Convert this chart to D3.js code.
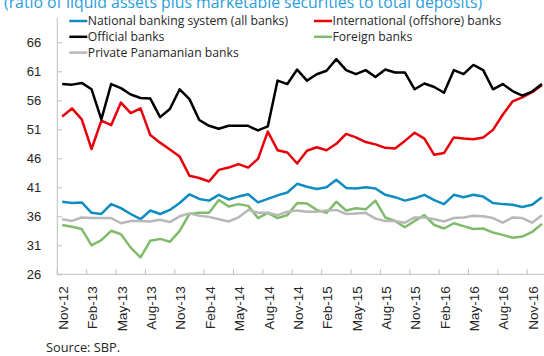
<!DOCTYPE html>
<html>
<head>
<meta charset="utf-8">
<script src="https://cdn.jsdelivr.net/npm/d3@7"></script>
<style>
    body { margin: 0; background: #fff; }
    svg { display: block; font-family: "Open Sans", sans-serif; }
</style>
</head>
<body>
<div id="chart-area"></div>
<script>

/* * * * * * * * * * * * * *
*   Bank liquidity chart   *
* * * * * * * * * * * * * */

// categories (monthly, Nov-12 .. Dec-16)
let months = [
    "Nov-12", "Dec-12",
    "Jan-13", "Feb-13", "Mar-13", "Apr-13", "May-13", "Jun-13", "Jul-13", "Aug-13", "Sep-13", "Oct-13", "Nov-13", "Dec-13",
    "Jan-14", "Feb-14", "Mar-14", "Apr-14", "May-14", "Jun-14", "Jul-14", "Aug-14", "Sep-14", "Oct-14", "Nov-14", "Dec-14",
    "Jan-15", "Feb-15", "Mar-15", "Apr-15", "May-15", "Jun-15", "Jul-15", "Aug-15", "Sep-15", "Oct-15", "Nov-15", "Dec-15",
    "Jan-16", "Feb-16", "Mar-16", "Apr-16", "May-16", "Jun-16", "Jul-16", "Aug-16", "Sep-16", "Oct-16", "Nov-16", "Dec-16"
];

let yTicks = [26, 31, 36, 41, 46, 51, 56, 61, 66];

// series values (percent)
let nationalBanks = [
    38.5, 38.3, 38.4, 36.6, 36.4, 38.1, 37.4, 36.4, 35.5, 37.0, 36.4, 37.1, 38.3, 39.8, 39.0, 38.7,
    39.7, 38.9, 39.4, 39.8, 38.4, 39.0, 39.6, 40.1, 41.6, 41.1, 40.7, 41.0, 42.3, 40.9, 40.8, 41.0,
    40.8, 39.7, 39.3, 38.7, 39.1, 39.7, 38.8, 38.1, 39.7, 39.3, 39.7, 39.4, 38.3, 38.1, 38.0, 37.6,
    38.0, 39.3
];
let internationalBanks = [
    53.2, 54.6, 52.7, 47.6, 52.5, 51.7, 55.6, 53.8, 54.6, 50.0, 48.7, 47.5, 46.3, 43.0, 42.6, 42.0,
    44.0, 44.4, 45.0, 44.4, 45.9, 50.6, 47.4, 47.0, 45.1, 47.3, 47.9, 47.4, 48.5, 50.2, 49.6, 48.8,
    48.4, 47.8, 47.7, 49.0, 50.4, 49.4, 46.6, 46.9, 49.6, 49.4, 49.3, 49.6, 50.9, 53.5, 55.8, 56.5,
    57.4, 58.6
];
let officialBanks = [
    58.8, 58.7, 59.0, 57.9, 52.7, 58.8, 58.1, 57.0, 56.4, 56.3, 53.1, 54.5, 57.9, 56.2, 52.6, 51.6,
    51.1, 51.6, 51.6, 51.6, 50.8, 51.5, 59.4, 58.8, 61.3, 59.4, 60.5, 61.1, 63.1, 61.2, 60.5, 61.2,
    60.0, 61.3, 60.8, 60.8, 57.9, 58.9, 58.3, 57.3, 61.2, 60.5, 62.1, 61.2, 57.9, 58.8, 57.6, 56.8,
    57.5, 58.8
];
let foreignBanks = [
    34.5, 34.2, 33.8, 31.0, 31.9, 33.5, 32.9, 30.6, 28.9, 31.8, 32.1, 31.6, 33.5, 36.4, 36.6, 36.6,
    38.8, 37.7, 38.1, 37.8, 35.7, 36.6, 35.7, 36.2, 38.3, 38.2, 37.1, 36.6, 38.5, 37.0, 37.4, 37.2,
    38.7, 35.8, 35.2, 34.1, 35.2, 36.2, 34.5, 33.9, 34.8, 34.3, 33.8, 33.9, 33.2, 32.8, 32.3, 32.5,
    33.3, 34.7
];
let privatePanamanianBanks = [
    35.5, 35.2, 35.8, 35.7, 35.7, 35.7, 34.8, 35.2, 35.2, 35.1, 35.4, 35.0, 36.0, 36.5, 36.1, 35.9,
    35.5, 35.1, 35.8, 37.1, 36.6, 36.6, 36.2, 36.8, 37.0, 36.8, 36.8, 37.0, 37.1, 36.4, 36.5, 36.6,
    35.6, 35.2, 35.2, 34.9, 35.8, 35.8, 35.5, 35.1, 35.7, 35.8, 36.1, 36.0, 35.7, 34.9, 35.8, 35.7,
    34.9, 36.2
];

// series in drawing order, legend position (col,row)
let series = [
    {name: "National banking system (all banks)", values: nationalBanks, color: "#0f8cc2", col: 0, row: 0},
    {name: "International (offshore) banks", values: internationalBanks, color: "#e8000b", col: 1, row: 0},
    {name: "Official banks", values: officialBanks, color: "#000000", col: 0, row: 1},
    {name: "Foreign banks", values: foreignBanks, color: "#7fbb6b", col: 1, row: 1},
    {name: "Private Panamanian banks", values: privatePanamanianBanks, color: "#b8b8b8", col: 0, row: 2}
];

let axisGray = "#bfbfbf";
let textColor = "#262626";

let width = 544, height = 356;

let svg = d3.select("#chart-area").append("svg")
    .attr("width", width)
    .attr("height", height);

// plot area
let plotLeft = 57.3, plotBottom = 274.3, plotTop = 18;
let monthWidth = 9.79;

let x = d3.scaleBand()
    .domain(months)
    .range([plotLeft, plotLeft + months.length * monthWidth])
    .padding(0);

let y = d3.scaleLinear()
    .domain([26, 66])
    .range([plotBottom, 42.3]);

// title (cut by the top edge, as in the source picture)
svg.append("text")
    .attr("x", 4)
    .attr("y", 8)
    .attr("fill", "#2b9ddc")
    .style("font-size", "15.8px")
    .text("(ratio of liquid assets plus marketable securities to total deposits)");

// y axis
let yAxis = svg.append("g")
    .attr("transform", `translate(${plotLeft},0)`)
    .call(d3.axisLeft(y).tickValues(yTicks).tickSizeInner(-5).tickSizeOuter(0).tickPadding(16));

yAxis.select(".domain").remove();
yAxis.selectAll(".tick line").attr("stroke", axisGray);
yAxis.selectAll(".tick text")
    .attr("fill", textColor)
    .style("font-size", "13px");

svg.append("line")
    .attr("x1", plotLeft).attr("x2", plotLeft)
    .attr("y1", plotTop).attr("y2", plotBottom)
    .attr("stroke", axisGray);

// x axis: labels at every 3rd month, ticks on the category boundary
let labelMonths = months.filter((d, i) => i % 3 === 0);

let xAxis = svg.append("g")
    .attr("transform", `translate(0,${plotBottom})`)
    .call(d3.axisBottom(x).tickValues(labelMonths).tickSize(0));

xAxis.select(".domain").remove();
xAxis.selectAll(".tick text")
    .attr("fill", textColor)
    .style("font-size", "13.5px")
    .attr("text-anchor", "end")
    .attr("transform", "rotate(-90)")
    .attr("x", -12)
    .attr("y", 1)
    .attr("dy", "0.35em");

svg.append("g")
    .selectAll("line")
    .data(labelMonths)
    .enter().append("line")
    .attr("x1", d => x(d)).attr("x2", d => x(d))
    .attr("y1", plotBottom).attr("y2", plotBottom - 5)
    .attr("stroke", axisGray);

svg.append("line")
    .attr("x1", plotLeft).attr("x2", width)
    .attr("y1", plotBottom).attr("y2", plotBottom)
    .attr("stroke", axisGray);

// lines
let line = d3.line()
    .x((d, i) => x(months[i]) + x.bandwidth() / 2)
    .y(d => y(d));

svg.append("g")
    .selectAll("path")
    .data(series)
    .enter().append("path")
    .attr("d", d => line(d.values))
    .attr("fill", "none")
    .attr("stroke", d => d.color)
    .attr("stroke-width", 2.5)
    .attr("stroke-linejoin", "round");

// legend
let legendX = [69.3, 314], legendY = 21, legendRow = 15.8;

let legend = svg.append("g")
    .selectAll("g")
    .data(series)
    .enter().append("g")
    .attr("transform", d => `translate(${legendX[d.col]},${legendY + d.row * legendRow})`);

legend.append("line")
    .attr("x1", 0).attr("x2", 18)
    .attr("stroke", d => d.color)
    .attr("stroke-width", 2.5);

legend.append("text")
    .attr("x", 18.5)
    .attr("dy", "0.35em")
    .attr("fill", textColor)
    .style("font-size", "12.2px")
    .text(d => d.name);

// source note
svg.append("text")
    .attr("x", 46)
    .attr("y", 352)
    .attr("fill", textColor)
    .style("font-size", "12.8px")
    .text("Source: SBP.");

</script>
</body>
</html>
